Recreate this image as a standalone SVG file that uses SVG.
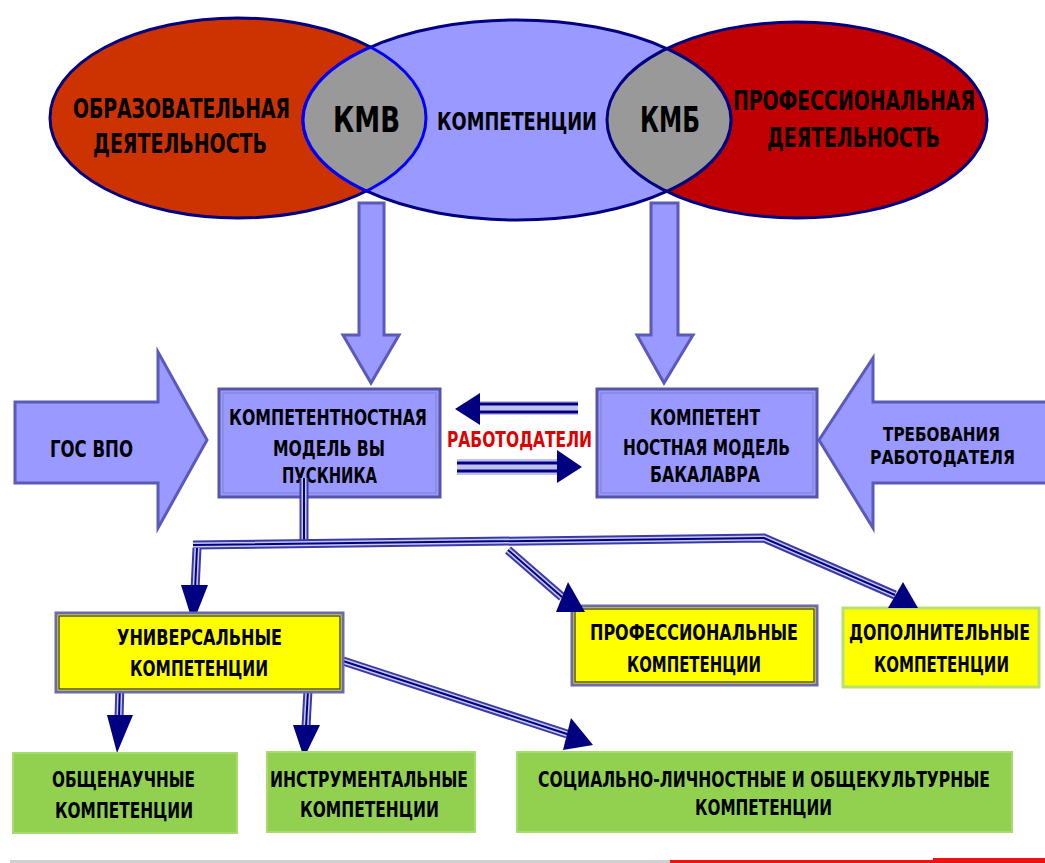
<svg xmlns="http://www.w3.org/2000/svg" width="1045" height="863" viewBox="0 0 1045 863">
<style>
.t{font-family:"Liberation Sans Narrow","DejaVu Sans Condensed","Liberation Sans",Arial,sans-serif;font-weight:bold;fill:#000;}
.red{fill:#DD0000;}
.ell{stroke:#000080;stroke-width:3;}
.blk{fill:#9999FF;stroke:#5A5AB8;stroke-width:3;}
.box{fill:#9999FF;stroke:#5555AA;stroke-width:3;}
.boxin{fill:none;stroke:#8080D0;stroke-width:1;}
.yel{fill:#FFFF00;stroke:#6A6AB0;stroke-width:3;}
.yelin{fill:none;stroke:#555533;stroke-width:1.5;}
.yelg{fill:#FFFF00;stroke:#B8E070;stroke-width:3;}
.grn{fill:#92D050;stroke:#A8DA70;stroke-width:2;}
.p1{fill:none;stroke:#3A3AA8;stroke-width:9;}
.p2{fill:none;stroke:#C8C8F0;stroke-width:5;}
.p3{fill:none;stroke:#000080;stroke-width:2;}
.head{fill:#000080;}
</style>
<defs>
<clipPath id="cL"><ellipse cx="238" cy="118" rx="188" ry="100"/></clipPath>
<clipPath id="cC"><ellipse cx="517" cy="120" rx="214" ry="100"/></clipPath>
<clipPath id="cR"><ellipse cx="797" cy="120" rx="190" ry="98"/></clipPath>
<linearGradient id="gg" x1="0" y1="0" x2="0" y2="1">
<stop offset="0.9" stop-color="#92D050"/><stop offset="1" stop-color="#C8E8A8"/>
</linearGradient>
</defs>
<rect width="1045" height="863" fill="#FFFFFF"/>

<g id="edu">
<ellipse class="ell" cx="238" cy="118" rx="188" ry="100" fill="#CC3300"/>
</g>
<g id="prof">
<ellipse class="ell" cx="797" cy="120" rx="190" ry="98" fill="#C00000"/>
</g>
<g id="comp">
<ellipse class="ell" cx="517" cy="120" rx="214" ry="100" fill="#9999FF"/>
</g>
<g id="kmv">
<g clip-path="url(#cC)"><ellipse cx="238" cy="118" rx="188" ry="100" fill="#999999" stroke="#0000FF" stroke-width="3"/></g>
<g clip-path="url(#cL)"><ellipse cx="517" cy="120" rx="214" ry="100" fill="none" stroke="#0000FF" stroke-width="3"/></g>
</g>
<g id="kmb">
<g clip-path="url(#cC)"><ellipse cx="797" cy="120" rx="190" ry="98" fill="#999999" stroke="#000080" stroke-width="3"/></g>
<g clip-path="url(#cR)"><ellipse cx="517" cy="120" rx="214" ry="100" fill="none" stroke="#000080" stroke-width="3"/></g>
</g>
<g id="toptext">
<text class="t" transform="translate(73,118) scale(1,1.17)" x="0" y="0" font-size="23" textLength="217" lengthAdjust="spacingAndGlyphs">ОБРАЗОВАТЕЛЬНАЯ</text>
<text class="t" transform="translate(93,153) scale(1,1.17)" x="0" y="0" font-size="23" textLength="174" lengthAdjust="spacingAndGlyphs">ДЕЯТЕЛЬНОСТЬ</text>
<text class="t" x="333" y="132" font-size="36" textLength="67" lengthAdjust="spacingAndGlyphs">КМВ</text>
<text class="t" x="437" y="130" font-size="24" textLength="160" lengthAdjust="spacingAndGlyphs">КОМПЕТЕНЦИИ</text>
<text class="t" x="640" y="132" font-size="36" textLength="60" lengthAdjust="spacingAndGlyphs">КМБ</text>
<text class="t" transform="translate(733,110) scale(1,1.17)" x="0" y="0" font-size="23" textLength="242" lengthAdjust="spacingAndGlyphs">ПРОФЕССИОНАЛЬНАЯ</text>
<text class="t" transform="translate(767,147) scale(1,1.17)" x="0" y="0" font-size="23" textLength="173" lengthAdjust="spacingAndGlyphs">ДЕЯТЕЛЬНОСТЬ</text>
</g>

<g id="arrowKMV">
<polygon class="blk" points="359,203 384,203 384,335 399,335 371,383 343,335 359,335"/>
</g>
<g id="arrowKMB">
<polygon class="blk" points="651,203 678,203 678,335 693,335 664,383 637,335 651,335"/>
</g>

<g id="gos">
<polygon class="blk" points="15,402 158,402 158,352 207,440 158,528 158,483 15,483"/>
<text class="t" x="50" y="457" font-size="23" textLength="83" lengthAdjust="spacingAndGlyphs">ГОС ВПО</text>
</g>
<g id="treb">
<polygon class="blk" points="1050,402 873,402 873,358 819,440 873,528 873,483 1050,483"/>
<text class="t" x="883" y="441" font-size="20" textLength="117" lengthAdjust="spacingAndGlyphs">ТРЕБОВАНИЯ</text>
<text class="t" x="870" y="464" font-size="20" textLength="145" lengthAdjust="spacingAndGlyphs">РАБОТОДАТЕЛЯ</text>
</g>

<g id="modelVyp">
<rect class="box" x="219" y="389" width="221" height="108"/>
<rect class="boxin" x="223" y="393" width="213" height="100"/>
<text class="t" x="229" y="425" font-size="21" textLength="198" lengthAdjust="spacingAndGlyphs">КОМПЕТЕНТНОСТНАЯ</text>
<text class="t" x="273" y="456" font-size="21" textLength="112" lengthAdjust="spacingAndGlyphs">МОДЕЛЬ ВЫ</text>
<text class="t" x="282" y="483" font-size="21" textLength="95" lengthAdjust="spacingAndGlyphs">ПУСКНИКА</text>
</g>
<g id="modelBak">
<rect class="box" x="597" y="389" width="220" height="108"/>
<rect class="boxin" x="601" y="393" width="212" height="100"/>
<text class="t" x="650" y="425" font-size="21" textLength="110" lengthAdjust="spacingAndGlyphs">КОМПЕТЕНТ</text>
<text class="t" x="623" y="455" font-size="21" textLength="167" lengthAdjust="spacingAndGlyphs">НОСТНАЯ МОДЕЛЬ</text>
<text class="t" x="650" y="482" font-size="21" textLength="110" lengthAdjust="spacingAndGlyphs">БАКАЛАВРА</text>
</g>
<g id="rabotodateli">
<text class="t red" x="447" y="447" font-size="21" textLength="145" lengthAdjust="spacingAndGlyphs">РАБОТОДАТЕЛИ</text>
</g>

<g id="connectors">
<rect x="480" y="401" width="98" height="14" fill="#C0C0EC"/>
<line x1="480" y1="404" x2="578" y2="404" stroke="#000080" stroke-width="3"/>
<line x1="480" y1="412" x2="578" y2="412" stroke="#000080" stroke-width="3"/>
<polygon class="head" points="455,409 480,393 480,425"/>
<rect x="457" y="459" width="100" height="16" fill="#C0C0EC"/>
<line x1="457" y1="463" x2="557" y2="463" stroke="#000080" stroke-width="3"/>
<line x1="457" y1="471" x2="557" y2="471" stroke="#000080" stroke-width="3"/>
<polygon class="head" points="582,467 557,450 557,483"/>

<path class="p1" d="M304,478 L304,542"/>
<path class="p2" d="M304,478 L304,542"/>
<path class="p3" d="M304,478 L304,542"/>

<path class="p1" d="M193,545 L764,538 L895,595" stroke-width="13"/>
<path class="p2" d="M193,545 L764,538 L895,595"/>
<path class="p3" d="M193,545 L764,538 L895,595"/>

<path class="p1" d="M197,548 L195,590"/>
<path class="p2" d="M197,548 L195,590"/>
<path class="p3" d="M197,548 L195,590"/>
<polygon class="head" points="193,623 181,585 208,585"/>

<path class="p1" d="M508,550 L562,597"/>
<path class="p2" d="M508,550 L562,597"/>
<path class="p3" d="M508,550 L562,597"/>

<path class="p1" d="M120,683 L119,718"/>
<path class="p2" d="M120,683 L119,718"/>
<path class="p3" d="M120,683 L119,718"/>
<polygon class="head" points="117,753 107,715 133,715"/>

<path class="p1" d="M308,690 L306,727"/>
<path class="p2" d="M308,690 L306,727"/>
<path class="p3" d="M308,690 L306,727"/>
<polygon class="head" points="304,758 293,725 320,725"/>

<path class="p1" d="M343,661 L567,734"/>
<path class="p2" d="M343,661 L567,734"/>
<path class="p3" d="M343,661 L567,734"/>
<polygon class="head" points="593,745 571,718 563,750"/>
</g>

<g id="univ">
<rect class="yel" x="56" y="613" width="287" height="79"/>
<rect class="yelin" x="59" y="616" width="281" height="73"/>
<text class="t" x="117" y="645" font-size="21" textLength="165" lengthAdjust="spacingAndGlyphs">УНИВЕРСАЛЬНЫЕ</text>
<text class="t" x="130" y="676" font-size="21" textLength="138" lengthAdjust="spacingAndGlyphs">КОМПЕТЕНЦИИ</text>
</g>
<g id="profComp">
<rect class="yel" x="572" y="606" width="245" height="79"/>
<rect class="yelin" x="575" y="609" width="239" height="73"/>
<text class="t" x="590" y="640" font-size="21" textLength="208" lengthAdjust="spacingAndGlyphs">ПРОФЕССИОНАЛЬНЫЕ</text>
<text class="t" x="627" y="672" font-size="21" textLength="134" lengthAdjust="spacingAndGlyphs">КОМПЕТЕНЦИИ</text>
</g>
<polygon class="head" points="585,612 568,582 556,612"/>
<g id="dop">
<rect class="yelg" x="843" y="608" width="196" height="79"/>
<text class="t" transform="translate(849,640) scale(1,1.17)" x="0" y="0" font-size="18" textLength="181" lengthAdjust="spacingAndGlyphs">ДОПОЛНИТЕЛЬНЫЕ</text>
<text class="t" x="874" y="672" font-size="21" textLength="135" lengthAdjust="spacingAndGlyphs">КОМПЕТЕНЦИИ</text>
</g>
<polygon class="head" points="918,608 903,582 888,608"/>

<g id="obsh">
<rect class="grn" x="13" y="753" width="224" height="80" fill="url(#gg)"/>
<text class="t" x="52" y="787" font-size="21" textLength="143" lengthAdjust="spacingAndGlyphs">ОБЩЕНАУЧНЫЕ</text>
<text class="t" x="55" y="818" font-size="21" textLength="138" lengthAdjust="spacingAndGlyphs">КОМПЕТЕНЦИИ</text>
</g>
<g id="instr">
<rect class="grn" x="267" y="752" width="208" height="80" fill="url(#gg)"/>
<text class="t" x="270" y="787" font-size="21" textLength="198" lengthAdjust="spacingAndGlyphs">ИНСТРУМЕНТАЛЬНЫЕ</text>
<text class="t" x="300" y="817" font-size="21" textLength="139" lengthAdjust="spacingAndGlyphs">КОМПЕТЕНЦИИ</text>
</g>
<g id="soc">
<rect class="grn" x="517" y="752" width="495" height="80" fill="url(#gg)"/>
<text class="t" transform="translate(538,787) scale(1,1.17)" x="0" y="0" font-size="18" textLength="452" lengthAdjust="spacingAndGlyphs">СОЦИАЛЬНО-ЛИЧНОСТНЫЕ И ОБЩЕКУЛЬТУРНЫЕ</text>
<text class="t" x="695" y="815" font-size="21" textLength="137" lengthAdjust="spacingAndGlyphs">КОМПЕТЕНЦИИ</text>
</g>

<rect x="10" y="860" width="660" height="3" fill="#D0D0D0"/>
<rect x="670" y="860" width="375" height="3" fill="#EE1111"/>
<rect x="933" y="858" width="112" height="5" fill="#EE1111"/>
</svg>
